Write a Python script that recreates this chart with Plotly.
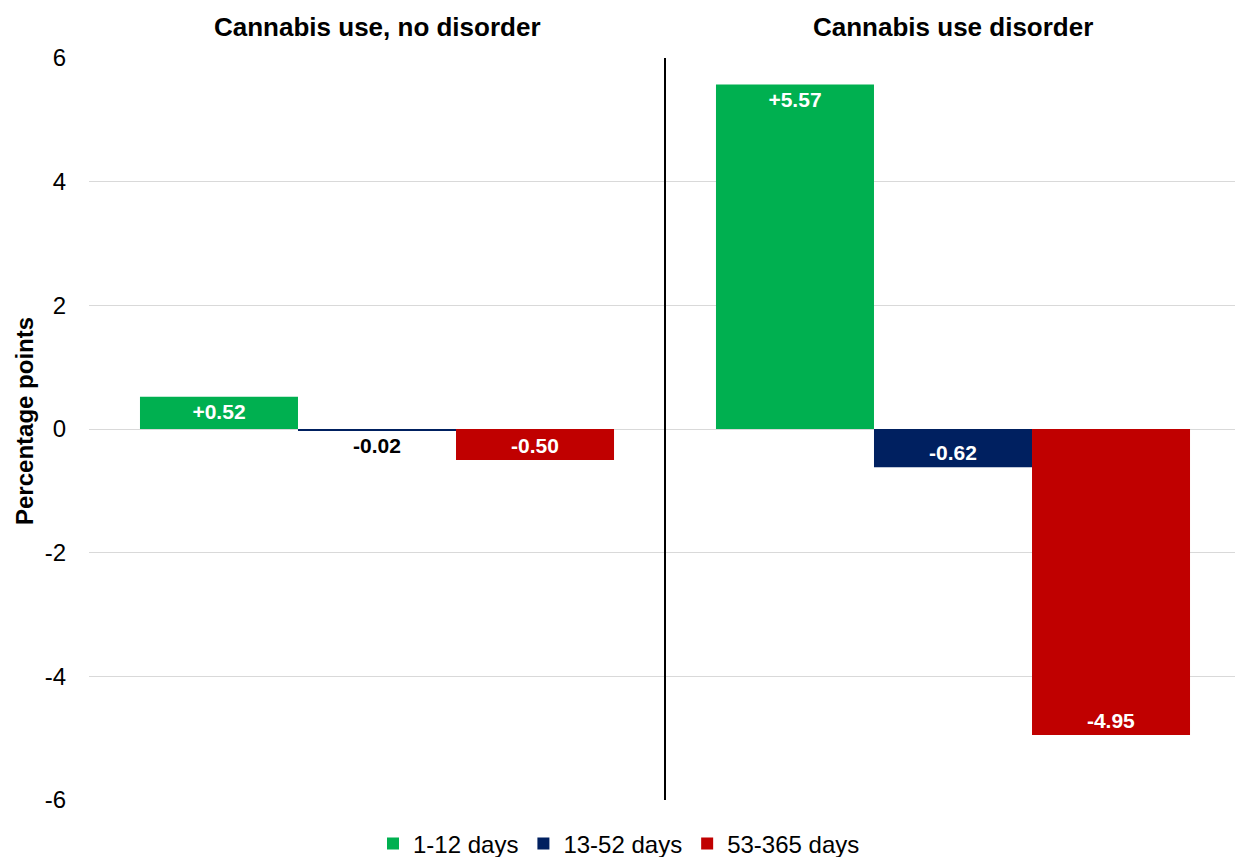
import plotly.graph_objects as go

groups = ["Cannabis use, no disorder", "Cannabis use disorder"]
series_names = ["1-12 days", "13-52 days", "53-365 days"]
values_1_12 = [0.52, 5.57]
values_13_52 = [-0.02, -0.62]
values_53_365 = [-0.50, -4.95]
y_ticks = [-6, -4, -2, 0, 2, 4, 6]

colors = ["#00B050", "#002060", "#C00000"]
all_values = [values_1_12, values_13_52, values_53_365]

W, H = 1235, 857
ml, mr, mt, mb = 89, 0, 58, 57
pw = W - ml - mr
ph = H - mt - mb
FONT = "Liberation Sans, Arial, sans-serif"

def fmt(v):
    return f"{v:+.2f}" if v > 0 else f"{v:.2f}"

fig = go.Figure()
xs = list(range(len(groups)))
for name, vals, col in zip(series_names, all_values, colors):
    positions, tcolors = [], []
    for v in vals:
        if abs(v) < 0.1:
            positions.append("outside")
            tcolors.append("#000000")
        else:
            positions.append("inside")
            tcolors.append("#FFFFFF")
    fig.add_trace(go.Bar(
        x=xs, y=vals, name=name, marker=dict(color=col, line=dict(width=0)),
        text=[fmt(v) for v in vals], textposition=positions,
        insidetextanchor="end", constraintext="none", cliponaxis=False,
        textfont=dict(family=FONT, size=21, color=tcolors),
        outsidetextfont=dict(family=FONT, size=21, color="#000000"),
        texttemplate="<b>%{text}</b>",
    ))

fig.update_layout(
    width=W, height=H,
    margin=dict(l=ml, r=mr, t=mt, b=mb, autoexpand=False),
    paper_bgcolor="white", plot_bgcolor="white",
    barmode="group", bargap=0.177, bargroupgap=0,
    font=dict(family=FONT, size=24, color="#000000"),
    showlegend=True,
    legend=dict(orientation="h", x=(619 - ml) / pw, xanchor="center",
                y=-(844 - (mt + ph)) / ph, yanchor="middle",
                font=dict(size=24), itemwidth=30, tracegroupgap=0,
                bgcolor="rgba(0,0,0,0)"),
    xaxis=dict(range=[-0.5, -0.5 + pw / 576.0], showticklabels=False, showgrid=False,
               zeroline=False, showline=False, fixedrange=True),
    yaxis=dict(range=[-6, 6], tickvals=y_ticks, ticktext=[str(t) for t in y_ticks],
               showgrid=True, gridcolor="#D9D9D9", gridwidth=1,
               zeroline=True, zerolinecolor="#D9D9D9", zerolinewidth=1,
               showline=False, ticklabelstandoff=22,
               tickfont=dict(size=24, color="#000000")),
)

fig.add_shape(type="line", xref="x", yref="paper", x0=0.5, x1=0.5, y0=0, y1=1,
              line=dict(color="#000000", width=2))

for i, g in enumerate(groups):
    fig.add_annotation(x=i, xref="x", y=1, yref="paper", yanchor="middle",
                       yshift=31, text=f"<b>{g}</b>", showarrow=False,
                       font=dict(size=26, color="#000000"))

fig.add_annotation(x=(24 - ml) / pw, xref="paper", y=0.5, yref="paper",
                   text="<b>Percentage points</b>", textangle=-90, showarrow=False,
                   xanchor="center", yanchor="middle", yshift=8,
                   font=dict(size=24, color="#000000"))

fig.write_html("out.html")
